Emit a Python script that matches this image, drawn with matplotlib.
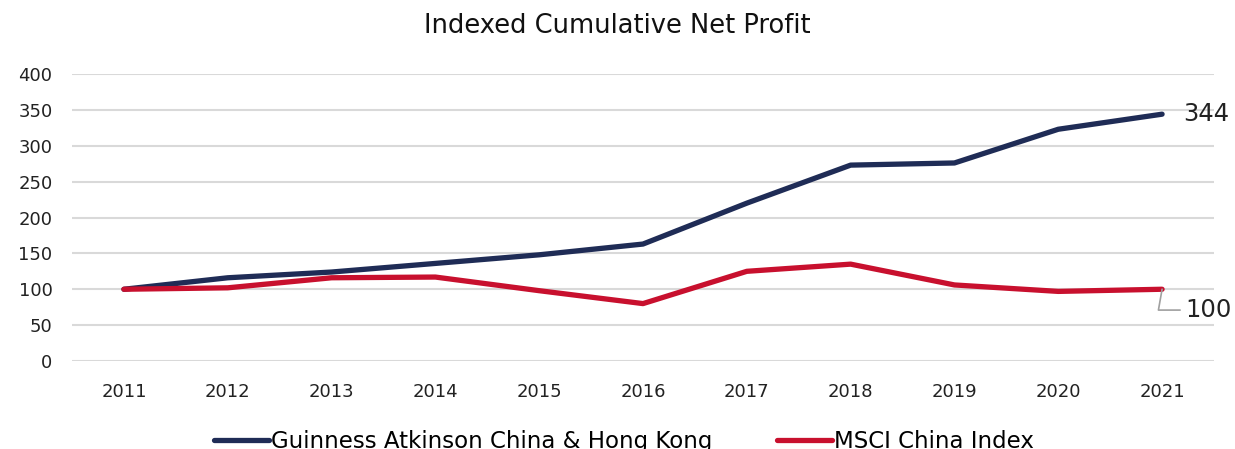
import numpy as np
import matplotlib.pyplot as plt

years = ['2011', '2012', '2013', '2014', '2015', '2016',
         '2017', '2018', '2019', '2020', '2021']
guinness = [100, 116, 124, 136, 148, 163, 220, 273, 276, 323, 344]
msci = [100, 102, 116, 117, 98, 80, 125, 135, 106, 97, 100]

navy = '#1f2c56'
red = '#c8102e'

plt.rcParams['font.family'] = ['DejaVu Sans']

fig = plt.figure(figsize=(12.35, 4.49), dpi=100)
ax = fig.add_axes([72 / 1235, 88 / 449, 1142 / 1235, 287 / 449])

x = np.arange(len(years))
ax.plot(x, guinness, color=navy, lw=3.8, solid_capstyle='round',
        label='Guinness Atkinson China & Hong Kong', zorder=3)
ax.plot(x, msci, color=red, lw=3.8, solid_capstyle='round',
        label='MSCI China Index', zorder=3)

ax.set_xlim(-0.5, len(years) - 0.5)
ax.set_ylim(0, 400)
ax.set_yticks(range(0, 401, 50))
ax.set_xticks(x)
ax.set_xticklabels(years)
ax.grid(axis='y', color='#d9d9d9', lw=1.5)
ax.set_axisbelow(True)
for s in ax.spines.values():
    s.set_visible(False)
ax.tick_params(axis='both', length=0, labelsize=13, colors='#222222')
ax.tick_params(axis='x', pad=16)
ax.tick_params(axis='y', pad=14)

# end labels
ax.annotate('344', xy=(x[-1], guinness[-1]), xytext=(15, 0),
            textcoords='offset points', fontsize=17.5, va='center',
            color='#222222', annotation_clip=False)
ax.annotate('100', xy=(x[-1], msci[-1]), xytext=(17, -15),
            textcoords='offset points', fontsize=17.5, va='center',
            color='#222222', annotation_clip=False,
            arrowprops=dict(arrowstyle='-', color='#a0a0a0', lw=1.2,
                            connectionstyle='angle,angleA=0,angleB=80,rad=0',
                            shrinkA=2, shrinkB=0))

fig.text(0.5, 0.943, 'Indexed Cumulative Net Profit', ha='center',
         va='center', fontsize=18.5, color='#111111')

fig.legend(loc='center', bbox_to_anchor=(0.505, 0.017), ncol=2,
           frameon=False, fontsize=16.5, handlelength=2.4, handletextpad=0.1,
           columnspacing=2.8)

fig.savefig('out.png', dpi=100)
